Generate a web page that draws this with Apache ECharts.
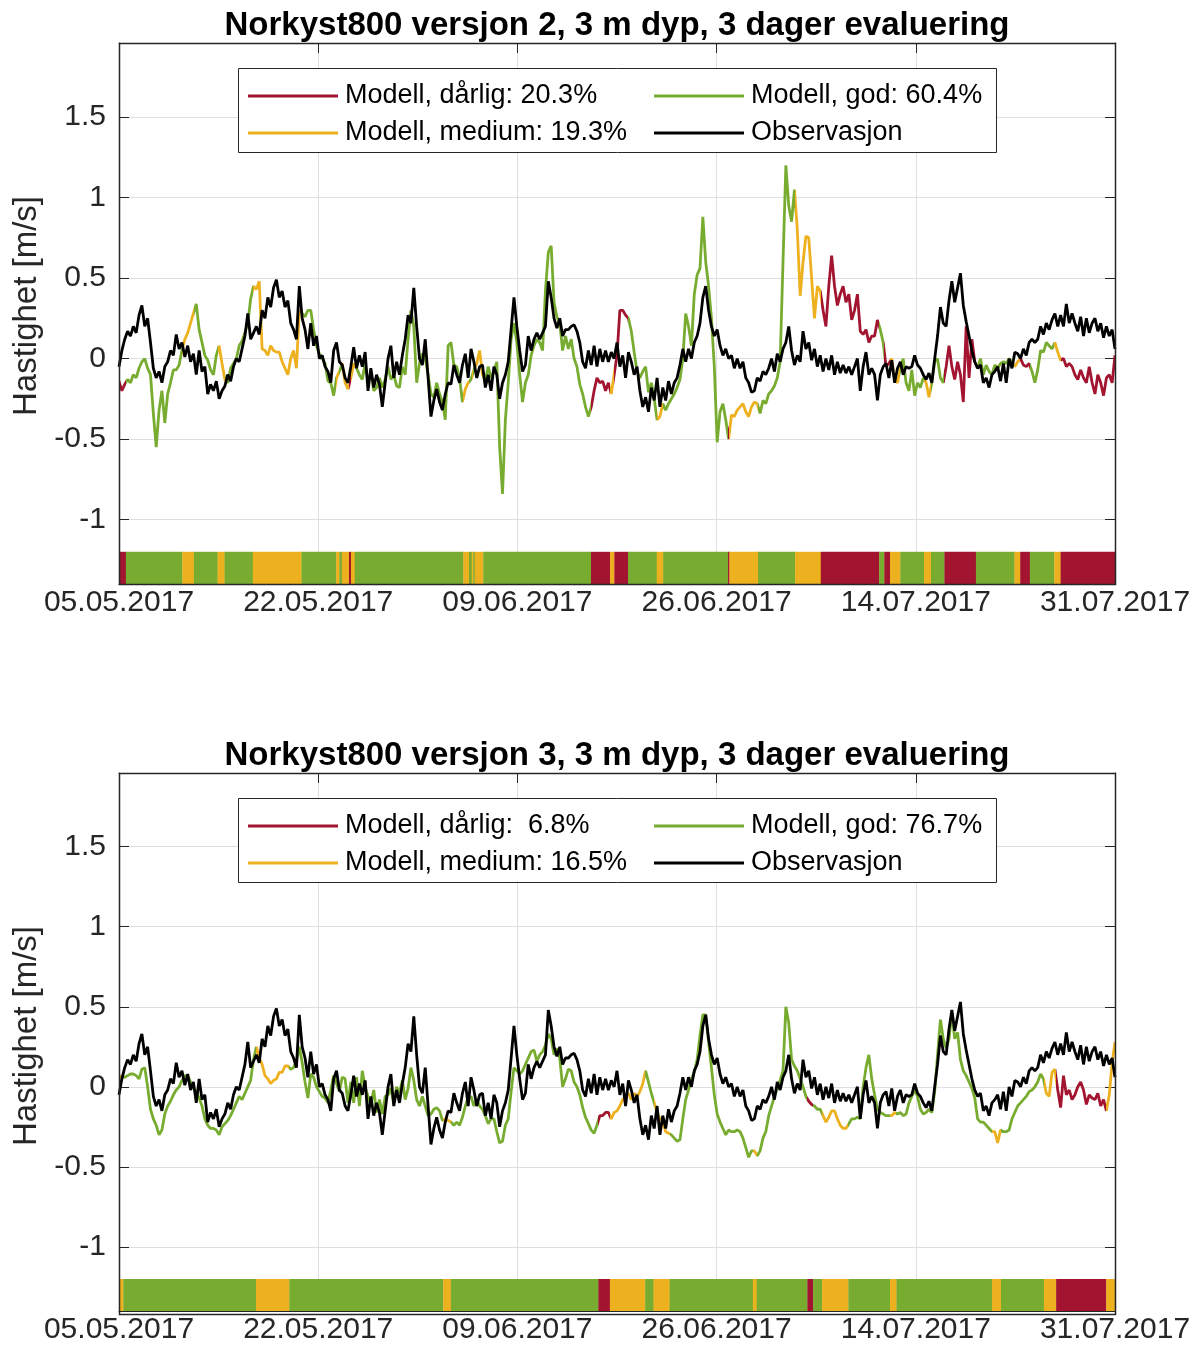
<!DOCTYPE html>
<html><head><meta charset="utf-8">
<script src="https://cdn.jsdelivr.net/npm/echarts@6/dist/echarts.min.js"></script>
<style>html,body{margin:0;padding:0;background:#fff}#c{width:1203px;height:1345px}</style>
</head><body><div id="c"></div>
<script>
// ---------- DATA ----------
// sample spacing in days from 05.05.2017 00:00
const sampleStepDays = 0.25;
const xTickDays = [0, 17.4, 34.8, 52.2, 69.6, 87];
const xTickLabels = ['05.05.2017', '22.05.2017', '09.06.2017', '26.06.2017', '14.07.2017', '31.07.2017'];
const yTicks = [-1, -0.5, 0, 0.5, 1, 1.5];
const yRange = [-1.4, 1.96];
const bandRange = [-1.4, -1.2];

const titles = [
  'Norkyst800 versjon 2, 3 m dyp, 3 dager evaluering',
  'Norkyst800 versjon 3, 3 m dyp, 3 dager evaluering'
];
const yAxisName = 'Hastighet [m/s]';
// order: dårlig, medium, god, observasjon
const legendV2 = ['Modell, dårlig: 20.3%', 'Modell, medium: 19.3%', 'Modell, god: 60.4%', 'Observasjon'];
const legendV3 = ['Modell, dårlig:  6.8%', 'Modell, medium: 16.5%', 'Modell, god: 76.7%', 'Observasjon'];
const classColors = ['#A2142F', '#EDB120', '#77AC30']; // dårlig, medium, god

// Observation (same in both panels), m/s, every 0.25 day
const obs = [
-0.05,0.05,0.12,0.17, 0.14,0.20,0.16,0.27, 0.33,0.20,0.25,0.10, -0.06,-0.12,-0.08,-0.15,
-0.05,-0.02,0.05,0.02, 0.15,0.06,0.10,0.01, 0.08,-0.02,0.03,-0.10, 0.05,-0.08,-0.05,-0.22,
-0.16,-0.20,-0.14,-0.25, -0.20,-0.17,-0.10,-0.14, -0.05,0.00,-0.02,0.06, 0.14,0.28,0.12,0.16,
0.20,0.15,0.30,0.25, 0.38,0.32,0.44,0.49, 0.38,0.42,0.32,0.36, 0.22,0.18,0.12,0.45,
0.25,0.18,0.06,0.22, 0.08,0.14,0.00,0.02, -0.05,-0.08,-0.15,0.05, 0.10,-0.02,-0.04,-0.12,
-0.15,-0.05,0.07,-0.06, 0.02,-0.05,0.04,-0.20, -0.06,-0.18,-0.10,-0.16, -0.30,-0.15,0.00,0.08,
-0.12,-0.02,-0.10,0.02, 0.12,0.27,0.22,0.44, 0.20,0.00,-0.04,0.12, -0.12,-0.36,-0.26,-0.19,
-0.27,-0.32,-0.22,-0.15, -0.16,-0.04,-0.10,-0.15, -0.04,0.03,-0.12,0.06, -0.02,-0.12,-0.05,-0.04,
-0.18,-0.10,-0.20,-0.05, -0.10,-0.25,-0.15,-0.10, -0.02,0.18,0.38,0.20, 0.05,-0.08,-0.04,0.14,
0.05,0.12,0.16,0.12, 0.16,0.20,0.48,0.38, 0.25,0.19,0.25,0.14, 0.18,0.18,0.20,0.21,
0.17,0.10,-0.02,-0.06, 0.05,-0.04,0.08,-0.05, 0.06,-0.02,0.05,-0.02, 0.04,0.00,0.10,-0.05,
0.02,-0.12,0.04,-0.02, -0.10,-0.05,-0.20,-0.30, -0.24,-0.33,-0.18,-0.26, -0.12,-0.30,-0.18,-0.26,
-0.14,-0.22,-0.15,-0.12, -0.04,0.06,-0.02,0.06, 0.00,0.10,0.14,0.22, 0.38,0.45,0.30,0.20,
0.14,0.18,0.08,0.02, 0.06,0.00,0.02,-0.06, 0.00,-0.06,-0.02,-0.12, -0.15,-0.21,-0.20,-0.12,
-0.14,-0.08,-0.10,-0.06, 0.00,-0.08,0.03,-0.02, 0.06,0.10,0.20,0.05, -0.04,0.02,-0.02,0.17,
0.06,0.10,-0.01,0.06, -0.05,0.02,-0.08,0.00, -0.07,0.02,-0.10,-0.02, -0.09,-0.04,-0.09,-0.05,
-0.10,-0.05,0.00,-0.20, -0.05,0.04,-0.10,-0.06, -0.10,-0.26,-0.10,-0.05, -0.03,-0.12,-0.01,-0.15,
-0.06,-0.02,-0.10,-0.05, -0.06,-0.05,0.02,-0.04, -0.06,-0.10,-0.13,-0.09, -0.15,0.00,0.14,0.32,
0.22,0.20,0.36,0.48, 0.35,0.44,0.53,0.33, 0.23,0.14,0.05,-0.02, -0.06,-0.04,-0.15,-0.12,
-0.18,-0.10,-0.08,-0.05, -0.14,-0.03,-0.15,0.00, -0.06,0.04,0.03,0.00, 0.06,0.02,0.10,0.12,
0.10,0.12,0.20,0.15, 0.22,0.18,0.24,0.28, 0.20,0.27,0.20,0.34, 0.22,0.28,0.22,0.17,
0.26,0.14,0.25,0.16, 0.22,0.25,0.17,0.22, 0.13,0.20,0.14,0.18,
0.06
];

// Norkyst800 v2 model, m/s, every 0.25 day
const modelV2 = [
-0.14,-0.20,-0.16,-0.13, -0.15,-0.10,-0.12,-0.06, -0.02,0.00,-0.06,-0.10, -0.34,-0.55,-0.32,-0.20,
-0.40,-0.22,-0.15,-0.07, -0.07,-0.04,0.05,0.12, 0.16,0.22,0.28,0.34, 0.18,0.10,0.02,-0.01,
-0.07,-0.10,0.02,0.08, -0.03,-0.13,-0.15,-0.06, -0.03,0.00,0.08,0.11, 0.16,0.22,0.37,0.45,
0.43,0.48,0.06,0.05, 0.02,0.08,0.05,0.04, 0.04,-0.02,-0.06,-0.10, 0.00,0.05,-0.06,0.30,
0.28,0.26,0.30,0.30, 0.18,0.08,0.03,0.00, -0.03,-0.14,-0.15,-0.23, -0.12,-0.08,-0.03,-0.15,
-0.19,-0.12,-0.03,-0.06, -0.10,-0.13,-0.03,-0.15, -0.08,-0.20,-0.18,-0.12, -0.18,-0.13,-0.05,-0.13,
-0.10,-0.17,-0.18,-0.05, -0.10,0.12,0.30,0.20, -0.15,-0.03,0.03,0.00, -0.10,-0.22,-0.24,-0.15,
-0.22,-0.27,-0.38,0.08, 0.10,-0.04,-0.05,-0.12, -0.27,-0.19,-0.15,-0.13, -0.07,-0.03,0.05,-0.10,
-0.14,-0.05,-0.12,-0.08, -0.02,-0.55,-0.84,-0.38, -0.15,0.12,0.22,0.10, -0.10,-0.27,-0.15,-0.10,
0.02,0.08,0.12,0.10, 0.05,0.42,0.66,0.70, 0.35,0.26,0.22,0.05, 0.14,0.06,0.12,0.00,
-0.05,-0.16,-0.22,-0.30, -0.36,-0.30,-0.20,-0.12, -0.15,-0.14,-0.20,-0.15, -0.22,-0.10,0.02,0.30,
0.30,0.27,0.25,0.17, 0.04,-0.08,-0.12,-0.08, -0.05,-0.21,-0.15,-0.25, -0.38,-0.36,-0.28,-0.32,
-0.28,-0.25,-0.22,-0.18, -0.13,0.00,0.28,0.20, 0.08,0.40,0.52,0.56, 0.88,0.60,0.45,0.25,
-0.05,-0.52,-0.33,-0.28, -0.38,-0.50,-0.35,-0.36, -0.32,-0.30,-0.28,-0.33, -0.36,-0.30,-0.27,-0.28,
-0.34,-0.26,-0.28,-0.22, -0.20,-0.17,-0.12,-0.02, 0.60,1.20,0.95,0.85, 1.05,0.80,0.39,0.60,
0.76,0.75,0.50,0.25, 0.45,0.42,0.30,0.20, 0.45,0.64,0.45,0.33, 0.40,0.45,0.35,0.40,
0.24,0.30,0.40,0.17, 0.15,0.18,0.10,0.14, 0.14,0.24,0.18,0.10, -0.05,-0.03,0.00,-0.13,
-0.15,-0.06,0.00,-0.15, -0.20,-0.07,-0.23,-0.15, -0.18,-0.12,-0.15,-0.24, -0.15,-0.02,0.00,-0.12,
-0.15,-0.05,0.08,-0.05, -0.13,-0.02,-0.10,-0.27, 0.20,-0.12,0.12,-0.02, -0.06,0.00,-0.10,-0.04,
-0.08,-0.10,-0.04,-0.06, -0.03,-0.02,-0.03,0.00, -0.02,-0.05,-0.02,0.00, -0.04,-0.05,-0.03,-0.08,
-0.15,-0.07,0.05,0.04, 0.10,0.08,0.06,0.10, 0.04,-0.01,0.00,-0.05, -0.03,-0.05,-0.10,-0.13,
-0.07,-0.12,-0.15,-0.05, -0.15,-0.22,-0.10,-0.15, -0.23,-0.12,-0.10,-0.15,
0.02
];

// Norkyst800 v3 model, m/s, every 0.25 day
const modelV3 = [
0.07,0.06,0.06,0.07, 0.08,0.08,0.07,0.05, 0.11,0.12,0.00,-0.14, -0.20,-0.24,-0.30,-0.27,
-0.17,-0.12,-0.09,-0.05, -0.02,0.00,0.04,0.07, 0.07,0.03,-0.01,-0.03, -0.07,-0.12,-0.20,-0.24,
-0.26,-0.26,-0.27,-0.30, -0.25,-0.23,-0.21,-0.18, -0.14,-0.10,-0.06,-0.08, -0.04,0.00,0.04,0.17,
0.25,0.18,0.14,0.07, 0.05,0.02,0.04,0.05, 0.09,0.09,0.13,0.13, 0.11,0.12,0.16,0.25,
0.15,0.03,-0.07,0.08, 0.06,0.00,-0.03,-0.06, -0.07,-0.10,-0.02,0.07, 0.02,-0.03,0.06,0.05,
-0.10,0.03,-0.10,0.06, -0.12,0.10,0.00,-0.06, -0.11,-0.02,-0.16,-0.08, -0.17,-0.06,-0.05,-0.01,
-0.10,0.00,-0.04,0.04, -0.08,-0.01,0.12,0.04, -0.08,-0.12,-0.06,-0.12, -0.18,-0.17,-0.14,-0.13,
-0.15,-0.21,-0.20,-0.21, -0.22,-0.24,-0.22,-0.24, -0.19,-0.12,-0.07,-0.06, -0.12,-0.08,-0.12,-0.14,
-0.18,-0.23,-0.20,-0.20, -0.28,-0.35,-0.34,-0.24, -0.20,-0.03,0.12,0.10, 0.08,0.10,0.14,0.18,
0.22,0.23,0.16,0.20, 0.22,0.26,0.33,0.30, 0.20,0.24,0.18,0.00, 0.05,0.11,0.10,0.03,
0.00,-0.05,-0.13,-0.19, -0.23,-0.27,-0.29,-0.24, -0.18,-0.18,-0.16,-0.16, -0.20,-0.16,-0.15,-0.12,
-0.08,-0.06,-0.04,-0.08, -0.04,-0.06,-0.03,0.02, 0.10,0.03,-0.04,-0.10, -0.16,-0.20,-0.22,-0.28,
-0.29,-0.30,-0.32,-0.34, -0.33,-0.20,-0.08,-0.02, 0.05,0.09,0.17,0.32, 0.45,0.45,0.28,0.12,
-0.05,-0.17,-0.22,-0.26, -0.30,-0.27,-0.28,-0.28, -0.27,-0.28,-0.32,-0.38, -0.44,-0.40,-0.40,-0.43,
-0.40,-0.32,-0.28,-0.18, -0.12,-0.06,-0.01,0.04, 0.10,0.50,0.40,0.17, 0.13,0.10,0.05,0.00,
-0.06,-0.09,-0.11,-0.12, -0.14,-0.14,-0.18,-0.22, -0.19,-0.15,-0.15,-0.20, -0.24,-0.26,-0.26,-0.23,
-0.20,-0.20,-0.19,-0.20, 0.00,0.12,0.20,0.05, -0.05,-0.14,-0.16,-0.17, -0.18,-0.18,-0.18,-0.16,
-0.17,-0.16,-0.18,-0.17, -0.10,-0.06,-0.02,-0.06, -0.14,-0.17,-0.16,-0.14, -0.16,-0.03,0.20,0.42,
0.30,0.24,0.30,0.46, 0.30,0.34,0.17,0.10, 0.07,0.03,-0.01,-0.07, -0.20,-0.22,-0.22,-0.24,
-0.26,-0.28,-0.28,-0.35, -0.27,-0.28,-0.28,-0.27, -0.20,-0.16,-0.12,-0.10, -0.08,-0.06,-0.03,-0.02,
0.00,0.03,0.08,0.05, -0.04,-0.06,0.09,0.11, -0.02,-0.13,0.07,-0.05, -0.02,-0.08,-0.05,0.00,
0.03,-0.02,-0.11,-0.05, -0.07,-0.08,-0.04,-0.12, -0.08,-0.15,-0.05,0.15,
0.28
];

// evaluation periods: [startDay, endDay, class]  class 0=dårlig, 1=medium, 2=god
const segV2 = [
[0,0.6,0],[0.6,5.53,2],[5.53,6.54,1],[6.54,8.61,2],[8.61,9.22,1],[9.22,11.69,2],[11.69,15.94,1],
[15.94,18.97,2],[18.97,19.25,1],[19.25,19.47,2],[19.47,20.09,1],[20.09,20.26,0],[20.26,20.59,1],
[20.59,30.08,2],[30.08,30.57,1],[30.57,30.81,2],[30.81,30.95,1],[30.95,31.07,2],[31.07,31.82,1],
[31.82,41.23,2],[41.23,42.89,0],[42.89,43.27,1],[43.27,44.46,0],[44.46,46.97,2],[46.97,47.53,1],
[47.53,53.2,2],[53.2,53.32,0],[53.32,55.82,1],[55.82,59.06,2],[59.06,61.3,1],[61.3,66.4,0],
[66.4,66.85,2],[66.85,67.35,0],[67.35,68.25,1],[68.25,70.32,2],[70.32,70.93,1],[70.93,72.1,2],
[72.1,74.85,0],[74.85,78.22,2],[78.22,78.72,1],[78.72,79.56,0],[79.56,81.69,2],[81.69,82.25,1],
[82.25,87,0]
];
const segV3 = [
[0,0.38,1],[0.38,11.97,2],[11.97,14.88,1],[14.88,28.32,2],[28.32,28.99,1],[28.99,41.87,2],
[41.87,42.88,0],[42.88,45.96,1],[45.96,46.69,2],[46.69,48.09,1],[48.09,55.37,2],[55.37,55.7,1],
[55.7,60.13,2],[60.13,60.63,0],[60.63,61.41,2],[61.41,63.71,1],[63.71,67.35,2],[67.35,67.91,1],
[67.91,76.25,2],[76.25,77.04,1],[77.04,80.79,2],[80.79,81.86,1],[81.86,86.23,0],[86.23,87,1]
];

// ---------- LAYOUT ----------
const FONT = "'Liberation Sans', Arial, Helvetica, sans-serif";
const AX = '#262626';
const GRIDC = '#dfdfdf';
const PL = 119, PW = 996, PH = 541;
const tops = [43, 773];

const panels = [
  {title: titles[0], model: modelV2, seg: segV2, legend: legendV2},
  {title: titles[1], model: modelV3, seg: segV3, legend: legendV3}
];

const toXY = arr => arr.map((v, i) => [i * sampleStepDays, v]);

const option = {
  animation: false,
  backgroundColor: '#fff',
  grid: [], xAxis: [], yAxis: [], series: [], legend: [], visualMap: [], graphic: []
};

panels.forEach((p, k) => {
  const top = tops[k];
  option.grid.push({left: PL, top: top, width: PW, height: PH, show: false});
  const axLine = {show: true, onZero: false, lineStyle: {color: AX, width: 1}};
  // bottom x axis
  option.xAxis.push({
    type: 'value', gridIndex: k, min: 0, max: 87, position: 'bottom',
    axisLine: axLine,
    axisTick: {show: true, inside: true, length: 10, customValues: xTickDays, lineStyle: {color: AX}},
    axisLabel: {show: true, customValues: xTickDays, margin: 4, fontSize: 30, color: AX, fontFamily: FONT,
      formatter: v => { const i = xTickDays.findIndex(t => Math.abs(t - v) < 1e-6); return i >= 0 ? xTickLabels[i] : ''; }},
    splitLine: {show: true, lineStyle: {color: GRIDC, width: 1}}
  });
  // top x axis (frame ticks)
  option.xAxis.push({
    type: 'value', gridIndex: k, min: 0, max: 87, position: 'top',
    axisLine: axLine,
    axisTick: {show: true, inside: true, length: 10, customValues: xTickDays, lineStyle: {color: AX}},
    axisLabel: {show: false}, splitLine: {show: false}
  });
  option.yAxis.push({
    type: 'value', gridIndex: k, min: yRange[0], max: yRange[1], position: 'left',
    axisLine: axLine,
    axisTick: {show: true, inside: true, length: 10, customValues: yTicks, lineStyle: {color: AX}},
    axisLabel: {show: true, customValues: yTicks, margin: 13, fontSize: 30, color: AX, fontFamily: FONT},
    splitLine: {show: true, lineStyle: {color: GRIDC, width: 1}}
  });
  option.yAxis.push({
    type: 'value', gridIndex: k, min: yRange[0], max: yRange[1], position: 'right',
    axisLine: axLine,
    axisTick: {show: true, inside: true, length: 10, customValues: yTicks, lineStyle: {color: AX}},
    axisLabel: {show: false}, splitLine: {show: false}
  });
  const xi = 2 * k, yi = 2 * k;
  const base = option.series.length;
  // model line, coloured by evaluation class
  option.series.push({
    type: 'line', name: 'model' + k, xAxisIndex: xi, yAxisIndex: yi,
    data: toXY(p.model), showSymbol: false, symbol: 'none', z: 2,
    lineStyle: {width: 2.8}
  });
  // observation
  option.series.push({
    type: 'line', name: p.legend[3], xAxisIndex: xi, yAxisIndex: yi, color: '#000',
    data: toXY(obs), showSymbol: false, symbol: 'none', z: 3,
    lineStyle: {width: 2.8, color: '#000'}
  });
  // classification band
  option.series.push({
    type: 'custom', name: 'band' + k, xAxisIndex: xi, yAxisIndex: yi, z: 4,
    data: p.seg, encode: {x: [0, 1]},
    renderItem: (params, api) => {
      const a = api.coord([api.value(0), bandRange[1]]);
      const b = api.coord([api.value(1), bandRange[0]]);
      return {type: 'rect', shape: {x: a[0], y: a[1], width: b[0] - a[0] + 0.3, height: b[1] - a[1]},
        style: {fill: classColors[api.value(2)]}};
    }
  });
  // legend-only series
  [0, 1, 2].forEach(c => {
    option.series.push({type: 'line', name: p.legend[c], xAxisIndex: xi, yAxisIndex: yi,
      data: [], color: classColors[c], itemStyle: {color: classColors[c]}, lineStyle: {color: classColors[c]}});
  });
  option.visualMap.push({
    type: 'piecewise', show: false, dimension: 0, seriesIndex: base,
    pieces: p.seg.map((s, i) => (i === p.seg.length - 1
      ? {gte: s[0], lte: s[1] + 0.01, color: classColors[s[2]]}
      : {gte: s[0], lt: s[1], color: classColors[s[2]]}))
  });
  const legCommon = {
    orient: 'vertical', icon: 'rect', itemWidth: 90, itemHeight: 3, itemGap: 0, selectedMode: false, z: 6,
    textStyle: {fontSize: 27, lineHeight: 37, color: '#000', fontFamily: FONT, padding: [0, 0, 0, 2]}
  };
  option.legend.push(Object.assign({}, legCommon, {left: 243, top: top + 29.5, data: [p.legend[0], p.legend[1]]}));
  option.legend.push(Object.assign({}, legCommon, {left: 649, top: top + 29.5, data: [p.legend[2], p.legend[3]]}));
  // legend box
  option.graphic.push({type: 'rect', z: 5, shape: {x: 238.5, y: top + 25.5, width: 758, height: 84},
    style: {fill: '#fff', stroke: AX, lineWidth: 1}});
  // plot frame
  option.graphic.push({type: 'rect', z: 20, shape: {x: PL + 0.5, y: top + 0.5, width: PW, height: PH},
    style: {fill: 'none', stroke: AX, lineWidth: 1.5}});
  // title
  option.graphic.push({type: 'text', z: 20, x: PL + PW / 2, y: top - 17,
    style: {text: p.title, font: 'bold 33px ' + FONT, fill: '#000', textAlign: 'center', textVerticalAlign: 'middle'}});
  // y-axis name
  option.graphic.push({type: 'text', z: 20, x: 27, y: top + 263, rotation: Math.PI / 2,
    style: {text: yAxisName, font: '33px ' + FONT, fill: AX, textAlign: 'center', textVerticalAlign: 'middle'}});
});

const chart = echarts.init(document.getElementById('c'), null, {renderer: 'canvas'});
chart.setOption(option);
</script>
</body></html>
